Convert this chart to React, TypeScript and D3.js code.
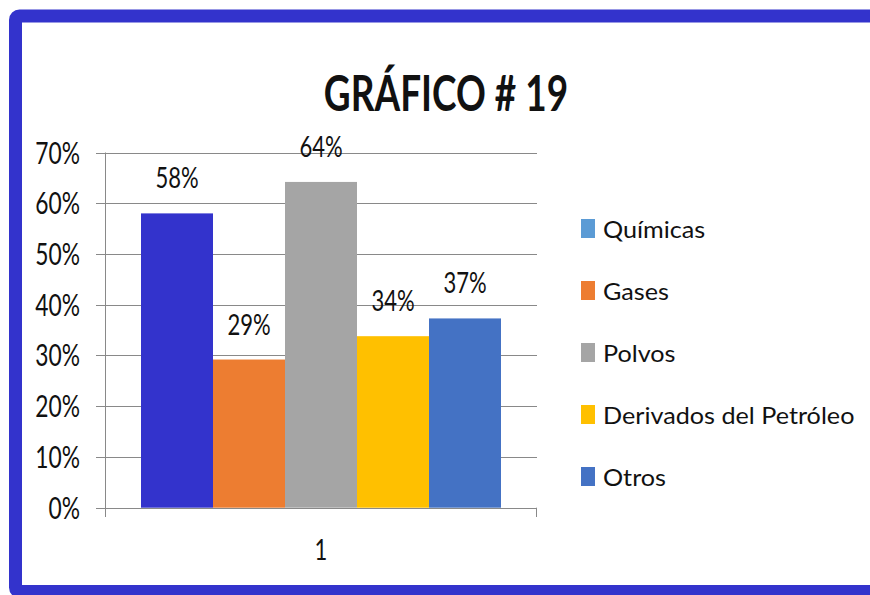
import * as d3 from "d3";

const series = ["Químicas", "Gases", "Polvos", "Derivados del Petróleo", "Otros"];
const values = [0.58, 0.292, 0.642, 0.338, 0.373];
const barColors = ["#3333cc", "#ed7d31", "#a5a5a5", "#ffc000", "#4472c4"];
const legendColors = ["#5b9bd5", "#ed7d31", "#a5a5a5", "#ffc000", "#4472c4"];
const categories = ["1"];
const yTicks = [0, 0.1, 0.2, 0.3, 0.4, 0.5, 0.6, 0.7];
const title = "GRÁFICO # 19";

const W = 870;
const H = 595;
const SX = 0.76; // glyphs in the picture are squeezed horizontally
const FONT = "Lato, 'Open Sans', sans-serif";
const INK = "#111";
const GRID = "#898989";

function Txt({ x, y, anchor = "middle", size, weight = 400, sx = SX, children }: any) {
  return (
    <g transform={`translate(${x},${y}) scale(${sx},1)`}>
      <text textAnchor={anchor} fontSize={size} fontWeight={weight} fontFamily={FONT} fill={INK}>
        {children}
      </text>
    </g>
  );
}

export default function App() {
  const plot = { left: 105, right: 537, top: 152.5, bottom: 507.7 };

  const y = d3.scaleLinear().domain([0, 0.7]).range([plot.bottom, plot.top]);
  const xCat = d3.scaleBand().domain(categories).range([plot.left, plot.right]);
  const xSer = d3
    .scaleBand()
    .domain(series)
    .range([0, xCat.bandwidth()])
    .paddingInner(0)
    .paddingOuter(0.5);
  const pct = d3.format(".0%");

  const legendY = d3.scalePoint().domain(series).range([228.5, 476.5]);

  return (
    <svg width={W} height={H} style={{ position: "absolute", left: 0, top: 0, background: "#fff" }}>
      <rect x={0} y={0} width={W} height={H} fill="#fff" />
      {/* frame */}
      <rect x={15.5} y={16} width={W + 40} height={575.5} rx={4} fill="none" stroke="#3333cc" strokeWidth={13} />

      <Txt x={446} y={111} size={50} weight={700} sx={0.74}>{title}</Txt>

      {/* gridlines + ticks */}
      {yTicks.map((t) => (
        <g key={t}>
          <line x1={96} x2={plot.right} y1={Math.round(y(t)) + 0.5} y2={Math.round(y(t)) + 0.5} stroke={GRID} strokeWidth={1} />
          <Txt x={80} y={y(t) + 11} anchor="end" size={30}>{pct(t)}</Txt>
        </g>
      ))}
      <line x1={plot.left + 0.5} x2={plot.left + 0.5} y1={plot.top} y2={517} stroke={GRID} />
      <line x1={plot.right - 0.5} x2={plot.right - 0.5} y1={plot.bottom} y2={517} stroke={GRID} />

      {/* bars */}
      {categories.map((c) => (
        <g key={c} transform={`translate(${xCat(c)},0)`}>
          {series.map((s, i) => (
            <g key={s}>
              <rect
                x={xSer(s)}
                y={y(values[i])}
                width={xSer.bandwidth()}
                height={y(0) - y(values[i])}
                fill={barColors[i]}
              />
              <Txt x={(xSer(s) as number) + xSer.bandwidth() / 2} y={y(values[i]) - 25} size={29}>
                {pct(values[i])}
              </Txt>
            </g>
          ))}
          <Txt x={xCat.bandwidth() / 2} y={560} size={29}>{c}</Txt>
        </g>
      ))}

      {/* legend */}
      {series.map((s, i) => (
        <g key={s}>
          <rect x={581} y={legendY(s)! - 9.5} width={14} height={19} fill={legendColors[i]} />
          <Txt x={603} y={legendY(s)! + 9} anchor="start" size={24} sx={1.05}>{s}</Txt>
        </g>
      ))}
    </svg>
  );
}
